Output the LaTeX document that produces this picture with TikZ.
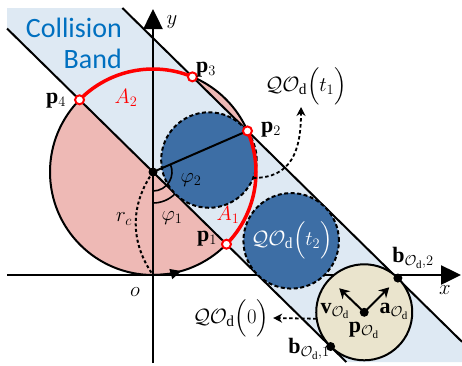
\documentclass[tikz,border=0pt]{standalone}
\usepackage{amsmath}
\usepackage{fontspec}
\setmainfont{Liberation Serif}
\newfontfamily\bandfont{Carlito}
\usetikzlibrary{calc,arrows.meta}
\definecolor{bandblue}{HTML}{DEE9F3}
\definecolor{pinkf}{HTML}{EEB9B5}
\definecolor{darkb}{HTML}{3D6EA5}
\definecolor{beigef}{HTML}{EAE4CD}
\definecolor{txtblue}{HTML}{0070C0}
\begin{document}
\begin{tikzpicture}[x=1pt,y=1pt,
  lbl/.style={font=\fontsize{22}{26}\selectfont, inner sep=0pt},
  bandtxt/.style={font=\bandfont\fontsize{28}{32}\selectfont, text=txtblue, inner sep=0pt},
  blackline/.style={line width=2pt, black},
  axisline/.style={line width=2.5pt, -{Triangle[length=20pt,width=19pt]}},
  darkcirc/.style={fill=darkb, draw=black, line width=2pt, dash pattern=on 4pt off 2.5pt},
  redarc/.style={red, line width=3.5pt},
  ptmark/.style={draw=red, fill=white, line width=2pt},
  dasharrow/.style={line width=1.8pt, dash pattern=on 3.5pt off 2.5pt, -{Stealth[length=9pt,width=9pt]}},
  vecarrow/.style={line width=2pt, -{Stealth[length=10pt,width=11pt]}}]
\useasboundingbox (0,0) rectangle (462,-365);
% key points
\coordinate (C) at (153,-172);
\coordinate (o) at (153,-275);
\coordinate (p1) at ($(C)+(-44.5:103)$);
\coordinate (p2) at ($(C)+(23.5:103)$);
\coordinate (p3) at ($(C)+(67.5:103)$);
\coordinate (p4) at ($(C)+(135.5:103)$);
\coordinate (Q1) at ($(C)+(45.5:47.75)+(-44.5:31.5)$);
\coordinate (Q2) at ($(C)+(45.5:47.75)+(-44.5:146.8)$);
\coordinate (B) at ($(C)+(45.5:48)+(-44.5:249)$);
\coordinate (b1) at ($(B)+(225.5:48)$);
\coordinate (b2) at ($(B)+(45.5:48)$);
\coordinate (L1) at (7,-28.5);
\coordinate (L2) at (346.3,-362);
\coordinate (U1) at (122.4,-8);
\coordinate (U2) at (462,-341.8);
\coordinate (xs) at (7,-275);
\coordinate (xe) at (461,-275);
\coordinate (ys) at (153,-363);
\coordinate (ye) at (153,-9);
% fills
\fill[pinkf] (C) circle[radius=103];
\fill[bandblue] (7,-8) -- (U1) -- (U2) -- (462,-362) -- (L2) -- (L1) -- cycle;
% axes
\draw[axisline] (xs) -- (xe);
\draw[axisline] (ys) -- (ye);
% circle outline and band lines
\draw[blackline] (C) circle[radius=103];
\draw[blackline] (L1) -- (L2);
\draw[blackline] (U1) -- (U2);
% obstacle circles
\draw[darkcirc] (Q1) circle[radius=47.75];
\draw[darkcirc] (Q2) circle[radius=47.75];
\draw[blackline, fill=beigef] (B) circle[radius=48];
% radius line and arcs
\draw[blackline] (C) -- (p2);
\draw[redarc] (p1) arc[start angle=-44.5, end angle=23.5, radius=103];
\draw[redarc] (p3) arc[start angle=67.5, end angle=135.5, radius=103];
\draw[line width=1.6pt] ($(C)+(-90:19)$) arc[start angle=-90, end angle=23.5, radius=19];
\draw[line width=1.6pt] ($(C)+(-90:31)$) arc[start angle=-90, end angle=-44.5, radius=31];
\draw[line width=2pt, dash pattern=on 3pt off 2.5pt] (C) to[bend right=35] (o);
\draw[line width=2pt, -{Triangle[length=11pt,width=10pt]}] (o) arc[start angle=-90, end angle=-74, radius=103];
% points
\fill (C) circle[radius=4.5];
\foreach \p in {p1,p2,p3,p4} \draw[ptmark] (\p) circle[radius=4.5];
\fill (B) circle[radius=4.5];
\fill (b1) circle[radius=4.5];
\fill (b2) circle[radius=4.5];
\draw[vecarrow] (B) -- ($(B)+(-25,24)$) coordinate (vt);
\draw[vecarrow] (B) -- ($(B)+(25,25)$) coordinate (at);
% labels
\node[bandtxt, anchor=base east] (cb1) at (122,-37) {Collision};
\node[bandtxt, anchor=base east] (cb2) at (122,-68) {Band};
\node[lbl] (lp4) at (56,-101) {$\mathbf{p}_4$};
\node[lbl] (lp3) at (206,-70) {$\mathbf{p}_3$};
\node[lbl] (lp2) at (271,-130) {$\mathbf{p}_2$};
\node[lbl] (lp1) at (207,-239) {$\mathbf{p}_1$};
\node[lbl, text=red] (lA2) at (126,-98) {$A_2$};
\node[lbl, text=red] (lA1) at (228,-215) {$A_1$};
\node[lbl] (lphi2) at (191,-180) {$\varphi_2$};
\node[lbl] (lphi1) at (172,-218) {$\varphi_1$};
\node[lbl] (lrc) at (124,-219) {$r_c$};
\node[lbl] (lo) at (135,-292) {$o$};
\node[lbl] (lx) at (445,-290) {$x$};
\node[lbl] (ly) at (172,-22) {$y$};
\node[lbl] (lt1) at (306,-86) {$\mathcal{Q}\mathcal{O}_{\mathrm{d}}\Big(t_1\Big)$};
\node[lbl, text=white] (lt2) at (292,-240) {$\mathcal{Q}\mathcal{O}_{\mathrm{d}}\Big(t_2\Big)$};
\node[lbl] (l0) at (231,-318) {$\mathcal{Q}\mathcal{O}_{\mathrm{d}}\Big(0\Big)$};
\node[lbl] (lv) at (335,-311) {$\mathbf{v}_{\mathcal{O}_{\mathrm{d}}}$};
\node[lbl] (la) at (394,-311) {$\mathbf{a}_{\mathcal{O}_{\mathrm{d}}}$};
\node[lbl] (lp) at (364,-330) {$\mathbf{p}_{\mathcal{O}_{\mathrm{d}}}$};
\node[lbl] (lb2) at (413,-258) {$\mathbf{b}_{\mathcal{O}_{\mathrm{d}},2}$};
\node[lbl] (lb1) at (309,-349) {$\mathbf{b}_{\mathcal{O}_{\mathrm{d}},1}$};
% dashed arrows
\coordinate (s1) at ($(Q1)+(-22:47.75)$);
\draw[dasharrow] (s1) .. controls (292,-178) and (301,-150) .. (301,-107);
\coordinate (s0) at ($(B)+(187.7:48)$);
\draw[dasharrow] (s0) -- ([xshift=4pt]l0.east);
\end{tikzpicture}
\end{document}
